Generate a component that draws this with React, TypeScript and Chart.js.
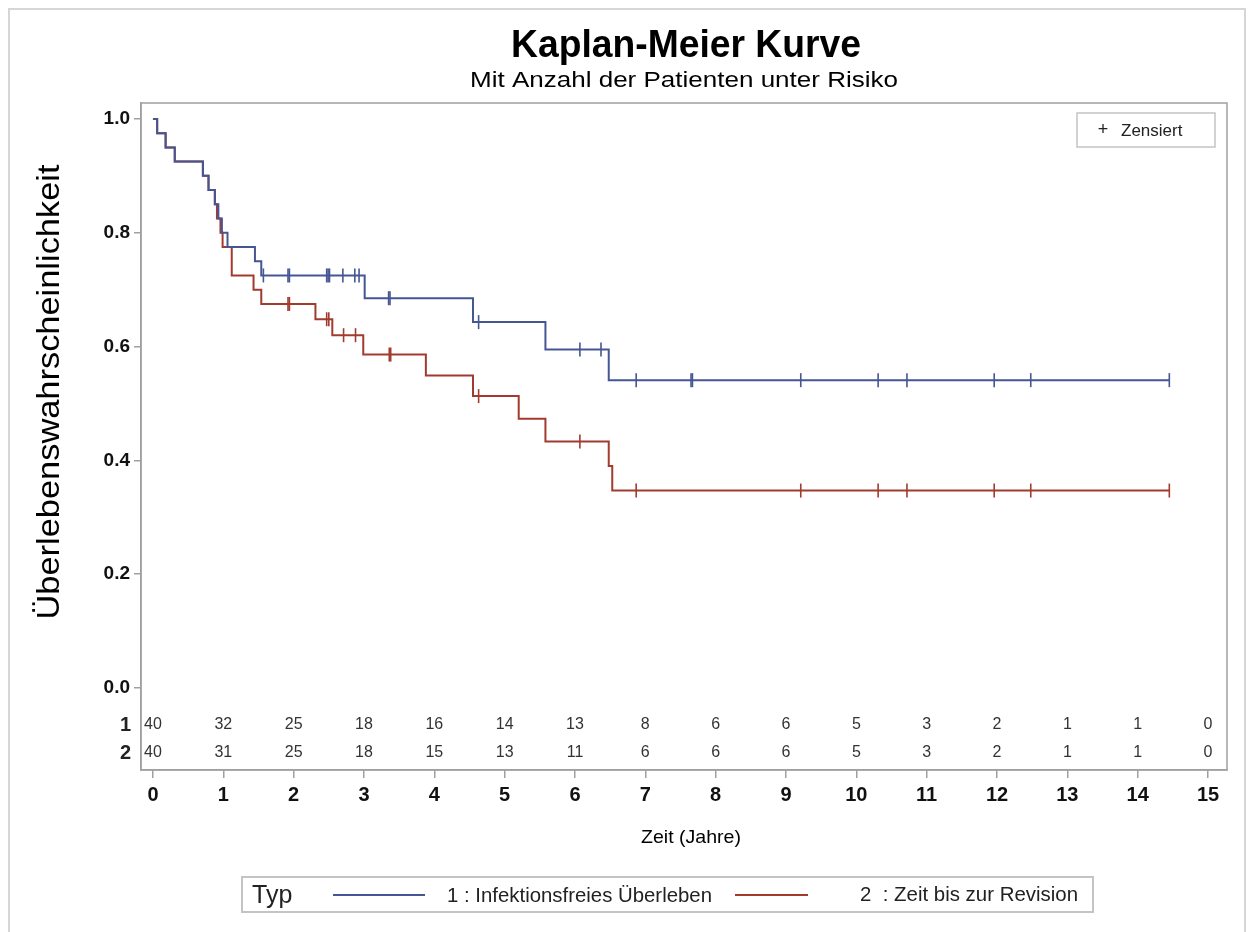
import React, { useEffect, useRef } from "react";
import { Chart, registerables } from "chart.js";

Chart.register(...registerables);

// ---------- text ----------
const TITLE = "Kaplan-Meier Kurve";
const SUBTITLE = "Mit Anzahl der Patienten unter Risiko";
const X_TITLE = "Zeit (Jahre)";
const Y_TITLE = "Überlebenswahrscheinlichkeit";
const LEGEND_TITLE = "Typ";
const CENSOR_LABEL = "Zensiert";
const GROUP_IDS = ["1", "2"];
const GROUP_LABELS = ["1 : Infektionsfreies Überleben", "2  : Zeit bis zur Revision"];

// ---------- axes ----------
const X_TICKS = [0, 1, 2, 3, 4, 5, 6, 7, 8, 9, 10, 11, 12, 13, 14, 15];
const Y_TICKS = [0, 0.2, 0.4, 0.6, 0.8, 1.0];

// ---------- group 1: Infektionsfreies Überleben ----------
const G1_TIMES = [0, 0.06, 0.18, 0.31, 0.71, 0.79, 0.88, 0.93, 0.98, 1.06, 1.45, 1.54, 3.01, 4.55, 5.58, 6.48, 14.45];
const G1_SURV = [1.0, 0.975, 0.95, 0.925, 0.9, 0.875, 0.85, 0.825, 0.8, 0.775, 0.75, 0.725, 0.685, 0.643, 0.595, 0.541, 0.541];
const G1_CENSOR = [1.57, 1.92, 1.94, 2.47, 2.49, 2.51, 2.7, 2.87, 2.93, 3.35, 3.37, 4.63, 6.07, 6.37, 6.87, 7.65, 7.67, 9.21, 10.31, 10.72, 11.96, 12.48, 14.45];
const G1_AT_RISK = [40, 32, 25, 18, 16, 14, 13, 8, 6, 6, 5, 3, 2, 1, 1, 0];

// ---------- group 2: Zeit bis zur Revision ----------
const G2_TIMES = [0, 0.06, 0.18, 0.31, 0.71, 0.79, 0.88, 0.91, 0.96, 0.99, 1.12, 1.43, 1.54, 2.31, 2.55, 2.99, 3.88, 4.55, 5.2, 5.58, 6.48, 6.53, 14.45];
const G2_SURV = [1.0, 0.975, 0.95, 0.925, 0.9, 0.875, 0.85, 0.825, 0.8, 0.775, 0.725, 0.7, 0.675, 0.648, 0.62, 0.586, 0.549, 0.513, 0.473, 0.433, 0.39, 0.347, 0.347];
const G2_CENSOR = [1.92, 1.94, 2.47, 2.5, 2.71, 2.88, 3.36, 3.38, 4.63, 6.07, 6.87, 9.21, 10.31, 10.72, 11.96, 12.48, 14.45];
const G2_AT_RISK = [40, 31, 25, 18, 15, 13, 11, 6, 6, 6, 5, 3, 2, 1, 1, 0];

// ---------- style ----------
const BLUE = "#445694";
const RED = "#A23A2E";
const FRAME = "#a0a0a0";
const FONT = "'Liberation Sans', Arial, Helvetica, sans-serif";

function survAt(times: number[], surv: number[], t: number) {
  let s = surv[0];
  for (let i = 0; i < times.length; i++) if (times[i] <= t) s = surv[i];
  return s;
}

function txt(ctx: CanvasRenderingContext2D, s: string, x: number, y: number, font: string, align: CanvasTextAlign = "center", w?: number, color = "#000", base: CanvasTextBaseline = "alphabetic") {
  ctx.save();
  ctx.font = font;
  ctx.fillStyle = color;
  ctx.textAlign = align;
  ctx.textBaseline = base;
  let sx = 1;
  if (w) sx = w / ctx.measureText(s).width;
  ctx.translate(x, y);
  ctx.scale(sx, 1);
  ctx.fillText(s, 0, 0);
  ctx.restore();
}

const decor = {
  id: "decor",
  afterDraw(chart: any) {
    const { ctx, chartArea: a } = chart;
    const xs = chart.scales.x;
    ctx.save();
    // outer border
    ctx.strokeStyle = "#d6d6d6";
    ctx.lineWidth = 2;
    ctx.strokeRect(9, 9, 1236, 940);
    // frame
    ctx.strokeStyle = FRAME;
    ctx.lineWidth = 1.5;
    ctx.strokeRect(a.left, a.top, a.right - a.left, a.bottom - a.top);

    // titles
    txt(ctx, TITLE, 686, 57, `bold 38px ${FONT}`, "center", 350);
    txt(ctx, SUBTITLE, 684, 87, `22px ${FONT}`, "center", 428);
    txt(ctx, X_TITLE, 691, 843, `19px ${FONT}`, "center", 100);
    ctx.save();
    ctx.translate(47, 392);
    ctx.rotate(-Math.PI / 2);
    txt(ctx, Y_TITLE, 0, 12, `32px ${FONT}`, "center", 455);
    ctx.restore();

    // risk table
    const rows = [G1_AT_RISK, G2_AT_RISK];
    const rowY = [725, 753];
    rows.forEach((row, r) => {
      txt(ctx, GROUP_IDS[r], 131, rowY[r], `bold 20px ${FONT}`, "right", undefined, "#222", "middle");
      row.forEach((n, i) => {
        txt(ctx, String(n), xs.getPixelForValue(X_TICKS[i]), rowY[r], `16px ${FONT}`, "center", undefined, "#333", "middle");
      });
    });

    // censor legend
    ctx.strokeStyle = "#c4c4c4";
    ctx.lineWidth = 1.5;
    ctx.strokeRect(1077, 113, 138, 34);
    txt(ctx, "+", 1103, 130, `18px ${FONT}`, "center", undefined, "#222", "middle");
    txt(ctx, CENSOR_LABEL, 1121, 131, `17px ${FONT}`, "left", undefined, "#222", "middle");

    // bottom legend
    ctx.strokeStyle = "#c4c4c4";
    ctx.lineWidth = 2;
    ctx.strokeRect(242, 877, 851, 35);
    txt(ctx, LEGEND_TITLE, 252, 896, `25px ${FONT}`, "left", undefined, "#222", "middle");
    ctx.lineWidth = 2;
    ctx.strokeStyle = BLUE;
    ctx.beginPath(); ctx.moveTo(333, 895); ctx.lineTo(425, 895); ctx.stroke();
    txt(ctx, GROUP_LABELS[0], 447, 896, `21px ${FONT}`, "left", 265, "#222", "middle");
    ctx.strokeStyle = RED;
    ctx.beginPath(); ctx.moveTo(735, 895); ctx.lineTo(808, 895); ctx.stroke();
    txt(ctx, GROUP_LABELS[1], 860, 895, `21px ${FONT}`, "left", 218, "#222", "middle");
    ctx.restore();
  },
};

export default function App() {
  const ref = useRef<HTMLCanvasElement>(null);
  useEffect(() => {
    if (!ref.current) return;
    const curve = (times: number[], surv: number[]) => times.map((t, i) => ({ x: t, y: surv[i] }));
    const cens = (c: number[], times: number[], surv: number[]) => c.map((t) => ({ x: t, y: survAt(times, surv, t) }));
    const chart = new Chart(ref.current, {
      type: "scatter",
      data: {
        datasets: [
          { label: GROUP_LABELS[0], data: curve(G1_TIMES, G1_SURV), showLine: true, stepped: true, borderColor: BLUE, borderWidth: 2, pointRadius: 0, fill: false },
          { label: GROUP_LABELS[1], data: curve(G2_TIMES, G2_SURV), showLine: true, stepped: true, borderColor: RED, borderWidth: 2, pointRadius: 0, fill: false },
          { label: "c1", data: cens(G1_CENSOR, G1_TIMES, G1_SURV), showLine: false, pointStyle: "line", rotation: 90, pointRadius: 7, borderColor: BLUE, backgroundColor: BLUE, pointBorderWidth: 1.6 },
          { label: "c2", data: cens(G2_CENSOR, G2_TIMES, G2_SURV), showLine: false, pointStyle: "line", rotation: 90, pointRadius: 7, borderColor: RED, backgroundColor: RED, pointBorderWidth: 1.6 },
        ],
      } as any,
      options: {
        responsive: false,
        animation: false,
        layout: { padding: { left: 0, top: 103, right: 27, bottom: 0 } },
        plugins: { legend: { display: false }, tooltip: { enabled: false }, title: { display: false } },
        scales: {
          x: {
            type: "linear",
            min: -0.17,
            max: 15.27,
            afterBuildTicks: (s: any) => { s.ticks = X_TICKS.map((v) => ({ value: v })); },
            afterFit: (s: any) => { s.height = 162; },
            grid: { drawOnChartArea: false, drawTicks: true, tickLength: 8, color: FRAME, lineWidth: 1.5 },
            border: { display: true, color: FRAME, width: 1.5 },
            ticks: { font: { family: FONT, size: 20, weight: "bold" }, color: "#111", padding: 5, maxRotation: 0, autoSkip: false, callback: (v: any) => String(v) },
          },
          y: {
            type: "linear",
            min: -0.144,
            max: 1.028,
            afterBuildTicks: (s: any) => { s.ticks = Y_TICKS.map((v) => ({ value: v })); },
            afterFit: (s: any) => { s.width = 141; },
            grid: { drawOnChartArea: false, drawTicks: true, tickLength: 7, color: FRAME, lineWidth: 1.5 },
            border: { display: true, color: FRAME, width: 1.5 },
            ticks: { font: { family: FONT, size: 19, weight: "bold" }, color: "#111", padding: 4, callback: (v: any) => Number(v).toFixed(1) },
          },
        },
      } as any,
      plugins: [decor],
    });
    return () => chart.destroy();
  }, []);
  return (
    <div style={{ position: "fixed", left: 0, top: 0, width: 1254, height: 932, background: "#fff" }}>
      <canvas ref={ref} width={1254} height={932} style={{ width: 1254, height: 932, display: "block" }} />
    </div>
  );
}
